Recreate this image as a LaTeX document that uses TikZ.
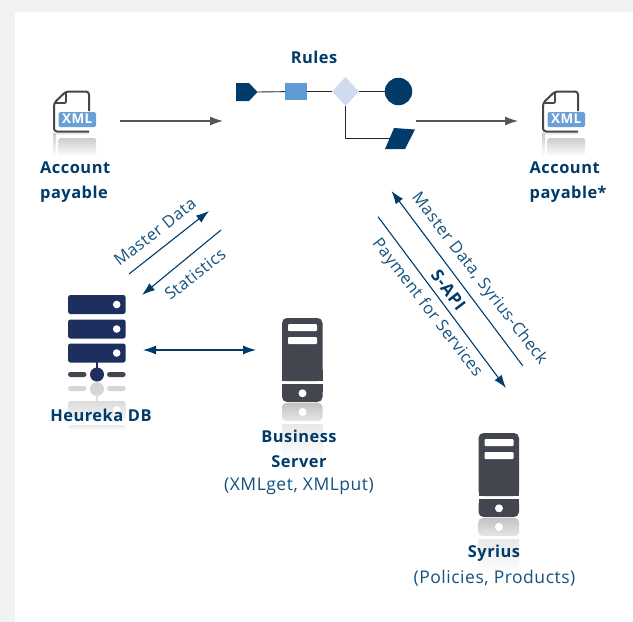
\documentclass[tikz,border=0pt]{standalone}
\usepackage{fontspec}
\setmainfont{Open Sans}[LetterSpace=3]
\usetikzlibrary{arrows.meta,shapes.geometric}
\definecolor{bgrey}{HTML}{F1F3F3}
\definecolor{dblue}{HTML}{003B6A}
\definecolor{tblue}{HTML}{14527F}
\definecolor{navy}{HTML}{1E2E5E}
\definecolor{slate}{HTML}{43464F}
\definecolor{lblue}{HTML}{5F9BD3}
\definecolor{badge}{HTML}{6A9FD8}
\definecolor{pale}{HTML}{CFDBF0}
\definecolor{arrowgrey}{HTML}{555659}
\tikzset{
  x=1pt,y=-1pt,
  head/.style={-{Latex[length=13pt,width=9pt]}},
  flow/.style={draw=arrowgrey,line width=1.1pt,head},
  link/.style={draw=dblue,line width=1.1pt,head},
  wire/.style={draw=black!85,line width=0.9pt},
  title/.style={font=\fontsize{16.4}{25}\selectfont\bfseries,text=dblue,inner sep=0pt,align=center},
  titleL/.style={title,align=left,anchor=north west},
  sub/.style={font=\fontsize{17.5}{25}\selectfont,text=tblue,inner sep=0pt,align=center},
  edgetext/.style={font=\fontsize{16.5}{18}\selectfont,text=tblue,inner sep=0pt},
  refl/.style={top color=black!20,bottom color=white,draw=none},
  refl2/.style={top color=black!9,bottom color=white,draw=none},
}
\newcommand{\xmldoc}[2]{%
  \begin{scope}[shift={(#1,#2)}]
    \draw[slate,line width=2pt,line join=round,rounded corners=3pt]
      (89,111) -- (89,91.5) -- (66,91.5) -- (54,103) -- (54,131.5) -- (89,131.5);
    \draw[slate,line width=1.6pt,line join=round,rounded corners=1pt] (66,92) -- (66,103) -- (55,103);
    \fill[badge,rounded corners=1.5pt] (58.5,112) rectangle (96,127);
    \node[font=\fontsize{13.5}{14}\selectfont\bfseries,text=white,inner sep=0pt] at (77.2,119) {XML};
    \shade[refl] (53,133) rectangle (56,156);
    \shade[refl2] (56,133) rectangle (89,135);
    \shade[refl,rounded corners=1.5pt] (58.5,138) rectangle (96,156);
  \end{scope}}
\newcommand{\tower}[2]{%
  \begin{scope}[shift={(#1,#2)}]
    \fill[slate,rounded corners=5pt] (282,318) -- (322.5,318) -- (322.5,330) -- (322.5,381) -- (282,381) -- (282,330) -- cycle;
    \fill[slate] (282,370) rectangle (322.5,381);
    \fill[slate,rounded corners=5pt] (282,384) rectangle (322.5,402);
    \fill[slate] (282,384) rectangle (322.5,392);
    \fill[white,rounded corners=1pt] (288,324) rectangle (317,331);
    \fill[white,rounded corners=1pt] (288,337) rectangle (317,344);
    \fill[white] (302.5,393.3) circle[radius=4];
    \shade[top color=black!24,bottom color=black!10,rounded corners=4pt] (282,403) rectangle (322.5,421);
    \fill[white] (302.5,412) circle[radius=4];
    \shade[refl2] (282,424) rectangle (322.5,460);
  \end{scope}}
\begin{document}
\begin{tikzpicture}
\useasboundingbox (0,0) rectangle (633,622);
\fill[bgrey] (0,0) rectangle (633,622);
\fill[white] (15,12) rectangle (633,622);

% XML documents
\xmldoc{0}{0}
\xmldoc{489}{0}
\node[titleL] (acc1) at (40,162) {Account\\payable};
\node[titleL] (acc2) at (529.5,162) {Account\\payable*};

% Rules
\node[title] (rules) at (314,57) {Rules};
\fill[dblue] (236,83) -- (249,83) -- (257.5,92) -- (249,101) -- (236,101) -- cycle;
\coordinate (pent) at (257.5,92);
\node[fill=lblue,minimum width=22pt,minimum height=17pt,inner sep=0pt] (task) at (296,91.5) {};
\node[diamond,fill=pale,minimum width=27pt,minimum height=29pt,inner sep=0pt] (gate) at (345.5,91.5) {};
\node[circle,fill=dblue,minimum size=27.5pt,inner sep=0pt] (endc) at (398.5,91.5) {};
\fill[dblue] (394,128) -- (415,129.5) -- (405,149) -- (385,149) -- cycle;
\coordinate (para) at (390,138);
\draw[wire] (pent) -- (task);
\draw[wire] (task) -- (gate);
\draw[wire] (gate) -- (endc);
\draw[wire] (gate.south) |- (para);

% grey flow arrows
\coordinate (f1a) at (120,121); \coordinate (f1b) at (223,121);
\coordinate (f2a) at (416,121); \coordinate (f2b) at (518,121);
\draw[flow] (f1a) -- (f1b);
\draw[flow] (f2a) -- (f2b);

% Heureka DB
\foreach \y in {295,319.5,343.5}{
  \fill[navy,rounded corners=2.5pt] (68,\y) rectangle (125.7,\y+19);
  \fill[white] (116.7,\y+9.5) circle[radius=3.8];
}
\fill[navy] (95.7,362) rectangle (97.7,372);
\fill[navy] (97,374.5) circle[radius=7];
\fill[slate,rounded corners=2.5pt] (68,372) rectangle (86.5,377);
\fill[slate,rounded corners=2.5pt] (107,372) rectangle (125.7,377);
\fill[black!16,rounded corners=2.5pt] (68,386) rectangle (86.5,391);
\fill[black!16,rounded corners=2.5pt] (107,386) rectangle (125.7,391);
\fill[black!16] (97,389) circle[radius=7];
\fill[black!12] (95.7,395) rectangle (97.7,401);
\shade[top color=black!14,bottom color=black!4,rounded corners=2.5pt] (68,401) rectangle (125.7,420);
\fill[white] (116.7,410) circle[radius=3.8];
\shade[refl2,rounded corners=2.5pt] (68,425) rectangle (125.7,430);
\node[title] (heureka) at (101,415) {Heureka DB};

% Servers
\tower{0}{0}
\tower{196.5}{115}
\node[title] (bs) at (299,448.5) {Business\\Server};
\node[sub] (bssub) at (299,486) {(XMLget, XMLput)};
\node[title] (sy) at (494,553) {Syrius};
\node[sub] (sysub) at (494.5,578) {(Policies, Products)};

% link arrows
\coordinate (m1a) at (129,274); \coordinate (m1b) at (209,211);
\coordinate (m2a) at (221,230); \coordinate (m2b) at (142,295);
\draw[link] (m1a) -- (m1b);
\draw[link] (m2a) -- (m2b);
\node[edgetext,rotate=38] (lmd) at (155,232) {Master Data};
\node[edgetext,rotate=38] (lst) at (195,274) {Statistics};

\coordinate (h1) at (143,350); \coordinate (h2) at (256,350);
\draw[link,{Latex[length=13pt,width=9pt]}-{Latex[length=13pt,width=9pt]}] (h1) -- (h2);

\coordinate (s1a) at (522.7,365.7); \coordinate (s1b) at (391.5,191);
\coordinate (s2a) at (378,216.7); \coordinate (s2b) at (506,388);
\draw[link] (s1a) -- (s1b);
\draw[link] (s2a) -- (s2b);
\node[edgetext,rotate=-52.5] (lms) at (479,279) {Master Data, Syrius-Check};
\node[edgetext,rotate=-52.5,font=\fontsize{17}{18}\selectfont\bfseries,text=dblue] (lapi) at (448.5,290) {S-API};
\node[edgetext,rotate=-52.5] (lpay) at (427,308) {Payment for Services};
\end{tikzpicture}
\end{document}
